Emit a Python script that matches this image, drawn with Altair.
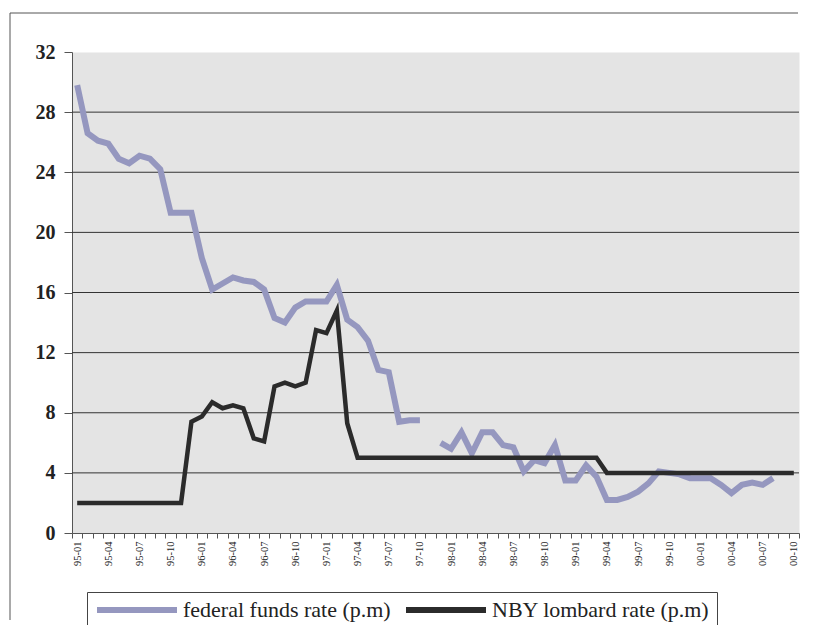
import altair as alt
import pandas as pd

# ---- data ----
years = ["95", "96", "97", "98", "99", "00"]
months = ["01", "02", "03", "04", "05", "06", "07", "08", "09", "10", "11", "12"]
periods = [f"{y}-{m}" for y in years for m in months][:70]  # 95-01 .. 00-10

fed_name = "federal funds rate (p.m)"
nby_name = "NBY lombard rate (p.m)"

federal = [
    29.8, 26.6, 26.1, 25.9, 24.9, 24.6, 25.1, 24.9, 24.2, 21.3, 21.3, 21.3,   # 95
    18.3, 16.2, 16.6, 17.0, 16.8, 16.7, 16.2, 14.3, 14.0, 15.0, 15.4, 15.4,   # 96
    15.4, 16.5, 14.2, 13.7, 12.8, 10.85, 10.7, 7.4, 7.5, 7.5, None, 6.0,      # 97
    5.6, 6.7, 5.3, 6.7, 6.7, 5.85, 5.7, 4.1, 4.85, 4.65, 5.85, 3.5,           # 98
    3.5, 4.5, 3.75, 2.2, 2.2, 2.4, 2.75, 3.3, 4.1, 4.0, 3.9, 3.65,            # 99
    3.65, 3.65, 3.2, 2.65, 3.2, 3.35, 3.2, 3.65, None, None,                  # 00
]
nby = [
    2.0, 2.0, 2.0, 2.0, 2.0, 2.0, 2.0, 2.0, 2.0, 2.0, 2.0, 7.4,               # 95
    7.75, 8.7, 8.3, 8.5, 8.3, 6.3, 6.1, 9.75, 10.0, 9.75, 10.0, 13.5,         # 96
    13.3, 14.8, 7.3, 5.0, 5.0, 5.0, 5.0, 5.0, 5.0, 5.0, 5.0, 5.0,             # 97
    5.0, 5.0, 5.0, 5.0, 5.0, 5.0, 5.0, 5.0, 5.0, 5.0, 5.0, 5.0,               # 98
    5.0, 5.0, 5.0, 4.0, 4.0, 4.0, 4.0, 4.0, 4.0, 4.0, 4.0, 4.0,               # 99
    4.0, 4.0, 4.0, 4.0, 4.0, 4.0, 4.0, 4.0, 4.0, 4.0,                         # 00
]

y_ticks = [0, 4, 8, 12, 16, 20, 24, 28, 32]
grid_values = [4, 8, 12, 16, 20, 24, 28]

fed_color = "#9597bf"
nby_color = "#2b2b2b"
serif = "'Liberation Serif', 'Times New Roman', 'DejaVu Serif', serif"

# ---- long table (segments split at missing months) ----
rows = []
seg = 0
prev_missing = False
for p, v in zip(periods, federal):
    if v is None:
        prev_missing = True
        continue
    if prev_missing:
        seg += 1
        prev_missing = False
    rows.append({"period": p, "value": v, "series": fed_name, "seg": f"f{seg}"})
for p, v in zip(periods, nby):
    rows.append({"period": p, "value": v, "series": nby_name, "seg": "n0"})
df = pd.DataFrame(rows)

x_enc = alt.X(
    "period:O",
    sort=periods,
    scale=alt.Scale(type="band", domain=periods, paddingInner=0, paddingOuter=0),
    axis=alt.Axis(
        title=None,
        tickBand="extent",
        labelAngle=270,
        labelFont=serif,
        labelFontSize=10.5,
        labelColor="#222",
        labelPadding=3,
        tickSize=5,
        tickColor="#555",
        domainColor="#555",
        labelOverlap=False,
        labelExpr="indexof(['01','04','07','10'], substring(datum.value, 3, 5)) >= 0 ? datum.value : ''",
    ),
)
y_scale = alt.Scale(domain=[0, 32], nice=False, zero=True)
y_enc = alt.Y(
    "value:Q",
    scale=y_scale,
    axis=alt.Axis(
        title=None,
        values=y_ticks,
        grid=False,
        labelFont=serif,
        labelFontSize=20,
        labelFontWeight="bold",
        labelColor="#222",
        labelPadding=9,
        tickSize=8,
        tickColor="#555",
        domainColor="#555",
    ),
)
color_enc = alt.Color(
    "series:N",
    scale=alt.Scale(domain=[fed_name, nby_name], range=[fed_color, nby_color]),
    legend=alt.Legend(
        title=None,
        orient="none",
        legendX=15,
        legendY=540,
        direction="horizontal",
        symbolType="stroke",
        symbolSize=6400,
        symbolStrokeWidth=6,
        clipHeight=22,
        labelFont=serif,
        labelFontSize=22,
        labelColor="#222",
        labelOffset=3,
        labelLimit=0,
        columnPadding=12,
        padding=7,
        strokeColor="#444",
        fillColor="white",
    ),
)

base = alt.Chart(df).encode(x=x_enc, y=y_enc, color=color_enc, detail="seg:N")

fed_line = base.transform_filter(alt.datum.series == fed_name).mark_line(strokeWidth=6)
nby_line = base.transform_filter(alt.datum.series == nby_name).mark_line(strokeWidth=4.5)

grid = alt.Chart(pd.DataFrame({"value": grid_values})).mark_rule(color="#333", strokeWidth=1).encode(
    y=alt.Y("value:Q", scale=y_scale)
)

one = pd.DataFrame({"a": [0]})
frame_top = alt.Chart(one).mark_rule(color="#555", strokeWidth=1).encode(
    x=alt.value(-62), x2=alt.value(726), y=alt.value(-39)
)
frame_left = alt.Chart(one).mark_rule(color="#555", strokeWidth=1).encode(
    x=alt.value(-62), y=alt.value(-39), y2=alt.value(568)
)

chart = (
    alt.layer(frame_top, frame_left, grid, fed_line, nby_line)
    .properties(
        width=727,
        height=481,
        autosize=alt.AutoSizeParams(type="none"),
        padding={"left": 64, "top": 44, "right": 6, "bottom": 92},
        background="white",
    )
    .configure_view(fill="#e4e4e4", stroke="transparent")
)

chart.save("out.html", embed_options={"renderer": "svg", "actions": False})
